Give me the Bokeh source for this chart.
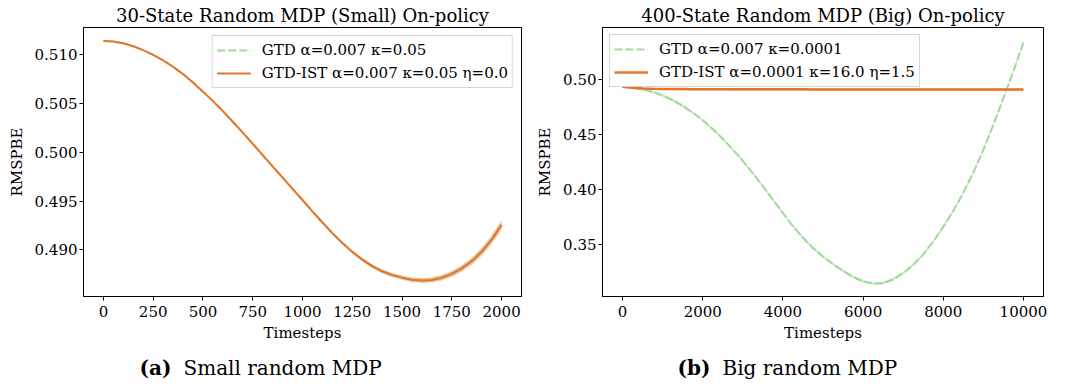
from bokeh.plotting import figure
from bokeh.models import Range1d, FixedTicker, Legend, LegendItem
from bokeh.layouts import row, column
from bokeh.embed import file_html
from bokeh.resources import INLINE
from bokeh.core.properties import value

FONT = "DejaVu Serif"
GREEN = "#a1d99b"
ORANGE = "#e8742a"
BAND = "#e6c89e"

# ---------------- data: small MDP ----------------
small_t = [0, 50, 100, 150, 200, 250, 300, 350, 400, 450, 500, 550, 600, 650, 700, 750, 800, 850, 900, 950, 1000,
           1050, 1100, 1150, 1200, 1250, 1300, 1350, 1400, 1450, 1500, 1550, 1600, 1650, 1700, 1750, 1800, 1850,
           1900, 1950, 2000]
small_gtd = [0.51140, 0.51134, 0.51115, 0.51085, 0.51045, 0.50997, 0.50940, 0.50875, 0.50800, 0.50714, 0.50620,
             0.50523, 0.50420, 0.50312, 0.50200, 0.50086, 0.49970, 0.49855, 0.49740, 0.49625, 0.49510,
             0.49394, 0.49280, 0.49171, 0.49070, 0.48979, 0.48900, 0.48833, 0.48780, 0.48742, 0.48715,
             0.48694, 0.48685, 0.48692, 0.48715, 0.48754, 0.48810, 0.48884, 0.48980, 0.49104, 0.49255]
small_ist = [0.51140, 0.51134, 0.51115, 0.51085, 0.51045, 0.50997, 0.50940, 0.50875, 0.50800, 0.50714, 0.50620,
             0.50523, 0.50420, 0.50312, 0.50200, 0.50086, 0.49970, 0.49855, 0.49740, 0.49625, 0.49510,
             0.49394, 0.49280, 0.49171, 0.49070, 0.48979, 0.48900, 0.48833, 0.48780, 0.48742, 0.48715,
             0.48694, 0.48685, 0.48692, 0.48715, 0.48754, 0.48810, 0.48884, 0.48980, 0.49104, 0.49255]
small_ist_err = [0.00005, 0.00005, 0.00005, 0.00005, 0.00005, 0.00005, 0.00005, 0.00005, 0.00005, 0.00005, 0.00005,
                 0.00005, 0.00005, 0.00005, 0.00005, 0.00005, 0.00006, 0.00007, 0.00008, 0.00009, 0.00010,
                 0.00011, 0.00012, 0.00013, 0.00015, 0.00016, 0.00018, 0.00019, 0.00020, 0.00021, 0.00022,
                 0.00023, 0.00025, 0.00026, 0.00028, 0.00030, 0.00033, 0.00036, 0.00040, 0.00044, 0.00048]
small_xticks = [0, 250, 500, 750, 1000, 1250, 1500, 1750, 2000]
small_yticks = [0.490, 0.495, 0.500, 0.505, 0.510]
small_ytick_labels = ["0.490", "0.495", "0.500", "0.505", "0.510"]

# ---------------- data: big MDP ----------------
big_t = [0, 250, 500, 750, 1000, 1250, 1500, 1750, 2000, 2250, 2500, 2750, 3000, 3250, 3500, 3750, 4000,
         4250, 4500, 4750, 5000, 5250, 5500, 5750, 6000, 6250, 6500, 6750, 7000, 7250, 7500, 7750, 8000,
         8250, 8500, 8750, 9000, 9250, 9500, 9750, 10000]
big_gtd = [0.4935, 0.49275, 0.4912, 0.4888, 0.4855, 0.4812, 0.4760, 0.46997, 0.4630, 0.45494, 0.4460,
           0.43638, 0.4260, 0.41478, 0.4030, 0.3908, 0.3785, 0.36679, 0.3560, 0.3469, 0.3390, 0.33203,
           0.3260, 0.32055, 0.3165, 0.3145, 0.3148, 0.31824, 0.3240, 0.3315, 0.3410, 0.35262, 0.3660,
           0.38062, 0.3970, 0.4155, 0.4360, 0.4588, 0.4830, 0.5078, 0.5335]
big_gtd_err = [0.0012] * 41
big_ist = [0.4935, 0.4925, 0.4918, 0.4915, 0.4914, 0.4913, 0.4913, 0.4912, 0.4912, 0.4912, 0.4912,
           0.4911, 0.4911, 0.4911, 0.4911, 0.4911, 0.4911, 0.4911, 0.4911, 0.4910, 0.4910, 0.4910,
           0.4910, 0.4910, 0.4910, 0.4910, 0.4910, 0.4910, 0.4910, 0.4910, 0.4910, 0.4910, 0.4910,
           0.4910, 0.4909, 0.4909, 0.4909, 0.4909, 0.4909, 0.4909, 0.4909]
big_ist_err = [0.0001, 0.0005, 0.0007, 0.0009] + [0.0010] * 37
big_xticks = [0, 2000, 4000, 6000, 8000, 10000]
big_yticks = [0.35, 0.40, 0.45, 0.50]
big_ytick_labels = ["0.35", "0.40", "0.45", "0.50"]

titles = ["30-State Random MDP (Small) On-policy", "400-State Random MDP (Big) On-policy"]
legend_small = ["GTD α=0.007 κ=0.05", "GTD-IST α=0.007 κ=0.05 η=0.0"]
legend_big = ["GTD α=0.007 κ=0.0001", "GTD-IST α=0.0001 κ=16.0 η=1.5"]
captions = [("(a)", "Small random MDP"), ("(b)", "Big random MDP")]

PLOT_H = 345
CAP_H = 42


def make_panel(width, border_left, border_right, xr, yr, xticks, yticks, ylabels,
               t, gtd, gtd_err, ist, err, title, labels, loc, margin, band_color, band_alpha, ist_width):
    p = figure(width=width, height=PLOT_H, x_range=Range1d(*xr), y_range=Range1d(*yr),
               toolbar_location=None, output_backend="svg",
               min_border_left=border_left, min_border_right=border_right,
               min_border_top=27, min_border_bottom=PLOT_H - 27 - 269)
    p.background_fill_color = "white"
    p.border_fill_color = "white"
    p.grid.visible = False
    p.outline_line_color = "black"
    p.outline_line_width = 1
    p.title.text = title
    p.title.text_font = FONT
    p.title.text_font_size = "18px"
    p.title.text_font_style = "normal"
    p.title.text_color = "black"
    p.title.align = "center"
    p.title.standoff = 4
    for ax in (p.xaxis[0], p.yaxis[0]):
        ax.axis_line_color = "black"
        ax.major_tick_line_color = "black"
        ax.major_tick_out = 4
        ax.major_tick_in = 0
        ax.minor_tick_line_color = None
        ax.major_label_text_font = FONT
        ax.major_label_text_font_size = "15px"
        ax.major_label_text_color = "black"
        ax.axis_label_text_font = FONT
        ax.axis_label_text_font_size = "15px"
        ax.axis_label_text_font_style = "normal"
        ax.axis_label_text_color = "black"
    p.xaxis.ticker = FixedTicker(ticks=xticks)
    p.yaxis.ticker = FixedTicker(ticks=yticks)
    p.yaxis.major_label_overrides = {v: s for v, s in zip(yticks, ylabels)}
    p.xaxis.axis_label = "Timesteps"
    p.yaxis.axis_label = "RMSPBE"
    p.xaxis.major_label_standoff = 5
    p.xaxis.axis_label_standoff = 4
    p.yaxis.major_label_standoff = 2
    p.yaxis.axis_label_standoff = 6

    if gtd_err is not None:
        glo = [v - e for v, e in zip(gtd, gtd_err)]
        ghi = [v + e for v, e in zip(gtd, gtd_err)]
        p.varea(x=t, y1=glo, y2=ghi, fill_color=GREEN, fill_alpha=0.55)
    lo = [v - e for v, e in zip(ist, err)]
    hi = [v + e for v, e in zip(ist, err)]
    p.varea(x=t, y1=lo, y2=hi, fill_color=band_color, fill_alpha=band_alpha)
    r1 = p.line(t, gtd, line_color=GREEN, line_width=2, line_dash="8 3")
    r2 = p.line(t, ist, line_color=ORANGE, line_width=ist_width)

    leg = Legend(items=[LegendItem(label=labels[0], renderers=[r1]),
                        LegendItem(label=labels[1], renderers=[r2])],
                 location=loc, margin=margin, padding=4, spacing=3,
                 glyph_width=34, glyph_height=20, label_height=20, label_standoff=11,
                 label_text_font=FONT, label_text_font_size="15px", label_text_color="black",
                 background_fill_color="white", background_fill_alpha=0.8,
                 border_line_color="#cccccc", border_line_alpha=0.8, border_line_width=1)
    p.add_layout(leg, "center")
    return p


def make_caption(width, split_x, bold, rest):
    c = figure(width=width, height=CAP_H, x_range=Range1d(0, width), y_range=Range1d(0, CAP_H),
               toolbar_location=None, output_backend="svg", title=None,
               x_axis_location=None, y_axis_location=None,
               min_border=0, min_border_left=0, min_border_right=0,
               min_border_top=0, min_border_bottom=0)
    c.grid.visible = False
    c.outline_line_color = None
    c.background_fill_color = "white"
    c.border_fill_color = "white"
    c.text(x=[split_x], y=[20], text=[bold], text_font=value(FONT), text_font_style="bold",
           text_font_size="20px", text_align="right", text_baseline="alphabetic", text_color="black")
    c.text(x=[split_x + 12], y=[20], text=[rest], text_font=value(FONT), text_font_style="normal",
           text_font_size="20px", text_align="left", text_baseline="alphabetic", text_color="black")
    return c


p1 = make_panel(530, 83, 9, (-100, 2100), (0.48522, 0.51277), small_xticks, small_yticks, small_ytick_labels,
                small_t, small_gtd, None, small_ist, small_ist_err, titles[0], legend_small, "top_right", 8,
                BAND, 1.0, 2)
p2 = make_panel(536, 72, 23, (-500, 10500), (0.3027, 0.5473), big_xticks, big_yticks, big_ytick_labels,
                big_t, big_gtd, big_gtd_err, big_ist, big_ist_err, titles[1], legend_big, "top_left", 7,
                ORANGE, 0.5, 2.5)

c1 = make_caption(530, 171, captions[0][0], captions[0][1])
c2 = make_caption(536, 180, captions[1][0], captions[1][1])

layout = column(row(p1, p2, spacing=0), row(c1, c2, spacing=0), spacing=0)
open("out.html", "w").write(file_html(layout, INLINE))
